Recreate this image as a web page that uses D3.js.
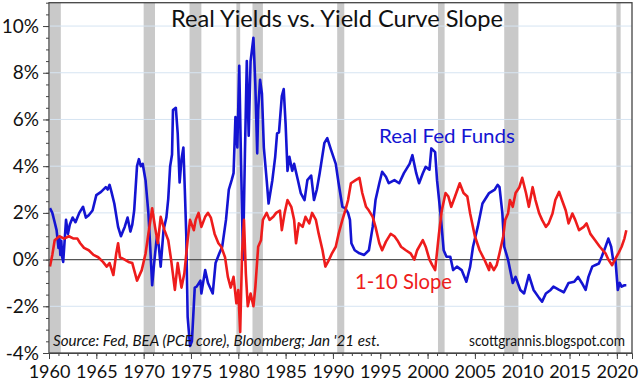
<!DOCTYPE html>
<html>
<head>
<meta charset="utf-8">
<script src="https://cdn.jsdelivr.net/npm/d3@7"></script>
<style>
  html, body { margin: 0; padding: 0; background: #fff; }
  svg { display: block; }
  text { font-family: Lato, "Open Sans", sans-serif; }
</style>
</head>
<body>
<svg id="chart" width="640" height="385"></svg>
<script>
// ---------------- DATA ----------------
const title = "Real Yields vs. Yield Curve Slope";
const sourceText = "Source: Fed, BEA (PCE core), Bloomberg; Jan '21 est.";
const siteText = "scottgrannis.blogspot.com";
const seriesNames = ["Real Fed Funds", "1-10 Slope"];

const yTicks = [-4, -2, 0, 2, 4, 6, 8, 10];
const xTicks = [1960, 1965, 1970, 1975, 1980, 1985, 1990, 1995, 2000, 2005, 2010, 2015, 2020];

// recession periods [start, end] (years)
const recessions = [
  [1960.1, 1961.25], [1970.0, 1971.2], [1974.85, 1976.1], [1979.8, 1980.2],
  [1981.5, 1982.6], [1990.45, 1991.2], [2001.1, 2001.8], [2008.1, 2009.6], [2019.95, 2020.4]
];

// Real Fed Funds (blue), [year, %]
const realFedFunds = [
  [1960.1,2.2],[1960.35,2.0],[1960.6,1.6],[1960.8,1.26],[1961.0,0.5],[1961.1,0.9],[1961.2,0.2],
  [1961.3,0.8],[1961.4,0.1],[1961.5,-0.1],[1961.8,1.7],[1962.0,1.1],[1962.2,1.5],[1962.5,1.8],
  [1962.8,1.6],[1963.2,2.0],[1963.6,2.26],[1963.9,1.8],[1964.2,1.9],[1964.6,2.1],[1965.0,2.76],
  [1965.5,2.9],[1966.0,3.1],[1966.2,3.0],[1966.4,3.2],[1966.6,2.9],[1966.9,2.4],[1967.3,1.4],
  [1967.6,1.0],[1967.8,1.2],[1968.0,1.4],[1968.3,1.8],[1968.6,1.2],[1968.8,1.5],[1969.0,2.1],
  [1969.3,4.0],[1969.5,4.3],[1969.7,4.0],[1969.9,4.1],[1970.2,3.4],[1970.5,2.0],[1970.7,0.5],
  [1970.9,-1.1],[1971.1,-0.2],[1971.4,1.0],[1971.6,0.6],[1971.8,-0.3],[1972.1,1.26],[1972.4,1.8],
  [1972.6,2.6],[1972.8,4.0],[1973.0,4.5],[1973.1,6.4],[1973.4,6.5],[1973.6,5.4],[1973.8,3.3],
  [1974.0,4.3],[1974.2,4.8],[1974.35,3.0],[1974.5,1.1],[1974.65,-2.45],[1974.9,-3.7],[1975.1,-3.5],
  [1975.4,-1.2],[1975.6,-1.16],[1976.0,-0.9],[1976.1,-1.45],[1976.5,-0.45],[1976.8,-1.0],
  [1977.3,-1.45],[1977.6,-0.15],[1978.0,0.27],[1978.3,0.55],[1978.7,1.7],[1979.0,3.0],[1979.3,3.4],
  [1979.5,3.7],[1979.7,6.1],[1979.9,4.8],[1980.1,8.3],[1980.3,4.0],[1980.5,0.0],[1980.7,4.5],
  [1980.9,8.5],[1981.1,5.3],[1981.3,8.5],[1981.6,9.5],[1981.8,7.5],[1982.0,4.55],[1982.1,6.4],
  [1982.3,7.7],[1982.5,7.1],[1982.7,4.8],[1983.0,3.4],[1983.2,2.4],[1983.6,3.4],[1983.9,4.4],
  [1984.1,5.4],[1984.3,5.45],[1984.6,7.0],[1984.8,7.3],[1985.0,5.8],[1985.2,3.8],[1985.4,4.4],
  [1985.7,3.8],[1985.9,4.1],[1986.3,3.4],[1986.6,2.85],[1987.0,2.55],[1987.3,3.4],[1987.7,3.6],
  [1988.0,2.55],[1988.3,3.0],[1988.6,3.7],[1989.1,5.0],[1989.4,5.2],[1989.8,4.7],[1990.3,4.1],
  [1990.6,3.27],[1991.0,2.26],[1991.3,2.2],[1991.6,2.0],[1991.8,1.7],[1991.95,0.7],[1992.3,0.4],
  [1992.8,0.27],[1993.3,0.2],[1993.8,0.4],[1994.2,1.4],[1994.5,2.55],[1994.9,3.27],[1995.2,3.76],
  [1995.6,3.55],[1995.9,3.27],[1996.5,3.4],[1997.0,3.27],[1997.5,3.7],[1998.1,4.1],[1998.4,4.47],
  [1998.8,3.7],[1999.1,3.27],[1999.5,3.7],[1999.8,3.97],[2000.2,3.85],[2000.4,4.76],[2000.8,4.6],
  [2001.0,3.4],[2001.4,1.83],[2001.7,0.4],[2002.0,0.12],[2002.4,0.12],[2002.7,-0.45],[2003.1,-0.3],
  [2003.6,-0.45],[2004.1,-0.95],[2004.5,-0.3],[2004.8,0.55],[2005.3,1.4],[2005.8,2.4],[2006.5,2.85],
  [2007.1,3.0],[2007.4,3.2],[2007.6,3.1],[2007.9,2.0],[2008.1,0.55],[2008.5,0.0],[2008.8,-0.6],
  [2009.0,-1.0],[2009.3,-0.74],[2009.8,-1.3],[2010.2,-1.45],[2010.7,-0.66],[2011.2,-1.3],
  [2011.8,-1.65],[2012.1,-1.8],[2012.5,-1.45],[2013.0,-1.3],[2013.3,-1.16],[2013.9,-1.3],
  [2014.4,-1.4],[2014.9,-1.0],[2015.5,-0.95],[2015.9,-0.74],[2016.3,-1.0],[2016.7,-1.3],
  [2017.0,-0.74],[2017.4,-0.3],[2017.7,-0.24],[2018.1,-0.17],[2018.4,0.12],[2018.8,0.55],
  [2019.1,0.9],[2019.4,0.55],[2019.6,0.0],[2019.85,0.0],[2020.1,-1.3],[2020.3,-1.0],[2020.5,-1.16],
  [2020.8,-1.1],[2021.0,-1.1]
];

// 1-10 Slope (red), [year, %]
const slope110 = [
  [1960.1,-0.3],[1960.35,0.2],[1960.6,0.83],[1961.1,1.0],[1961.6,0.9],[1962.1,1.0],[1962.6,0.9],
  [1963.0,0.9],[1963.3,0.7],[1963.7,0.5],[1964.2,0.4],[1964.7,0.2],[1965.2,0.1],[1965.7,-0.1],
  [1966.1,-0.3],[1966.4,-0.15],[1966.8,-0.66],[1967.1,0.25],[1967.3,0.7],[1967.5,0.1],[1968.0,0.0],
  [1968.4,-0.1],[1968.8,-0.15],[1969.3,-0.9],[1969.8,-0.45],[1970.2,0.25],[1970.5,1.1],[1970.9,2.2],
  [1971.2,1.4],[1971.5,0.7],[1971.8,1.83],[1972.2,1.26],[1972.6,0.83],[1972.9,0.0],[1973.3,-1.3],
  [1973.6,-0.15],[1974.0,-1.2],[1974.3,-0.6],[1974.65,0.83],[1974.9,1.7],[1975.3,1.26],[1975.5,1.7],
  [1975.8,2.0],[1976.1,1.4],[1976.5,1.83],[1976.8,2.0],[1977.1,1.8],[1977.5,1.1],[1977.9,0.7],
  [1978.2,0.55],[1978.6,0.1],[1978.9,-0.74],[1979.2,-1.2],[1979.5,-0.74],[1979.8,-1.87],[1980.0,-1.3],
  [1980.2,-3.1],[1980.4,0.27],[1980.6,1.7],[1980.8,-0.6],[1981.0,-2.0],[1981.3,-1.45],[1981.6,-2.0],
  [1981.8,-1.2],[1982.1,0.55],[1982.4,0.83],[1982.6,1.7],[1983.0,2.0],[1983.3,1.7],[1983.7,1.83],
  [1984.0,2.0],[1984.4,2.1],[1984.6,1.26],[1984.9,2.0],[1985.2,2.55],[1985.6,2.26],[1985.9,1.7],
  [1986.1,0.7],[1986.4,1.55],[1986.8,1.4],[1987.1,1.83],[1987.5,1.55],[1987.8,2.0],[1988.2,1.7],
  [1988.5,1.1],[1988.9,0.4],[1989.2,-0.3],[1989.6,0.0],[1989.9,0.27],[1990.3,0.55],[1990.6,1.1],
  [1991.0,1.7],[1991.3,2.1],[1991.6,2.55],[1991.9,3.27],[1992.4,3.4],[1992.8,3.5],[1993.1,2.85],
  [1993.5,2.26],[1993.8,2.1],[1994.2,1.83],[1994.5,1.4],[1994.9,0.7],[1995.2,0.4],[1995.6,0.77],
  [1996.1,1.1],[1996.5,1.0],[1996.8,0.83],[1997.2,0.55],[1997.7,0.4],[1998.2,0.27],[1998.6,0.0],
  [1998.9,0.4],[1999.5,0.83],[1999.8,0.55],[2000.2,0.0],[2000.5,-0.24],[2000.8,-0.45],[2001.2,1.1],
  [2001.5,2.1],[2001.9,2.85],[2002.2,2.7],[2002.5,2.26],[2002.9,2.7],[2003.4,3.27],[2003.8,2.85],
  [2004.2,2.7],[2004.5,1.97],[2005.0,1.0],[2005.5,0.4],[2006.0,0.0],[2006.5,-0.45],[2006.6,-0.15],
  [2007.0,-0.45],[2007.3,-0.24],[2007.6,0.27],[2008.0,1.0],[2008.2,1.7],[2008.5,1.97],[2008.7,2.55],
  [2009.0,2.26],[2009.3,2.85],[2009.7,3.1],[2010.0,3.5],[2010.4,2.85],[2010.7,2.26],[2011.1,3.1],
  [2011.4,2.55],[2011.8,1.97],[2012.1,1.7],[2012.5,1.4],[2012.8,1.55],[2013.2,1.97],[2013.5,2.55],
  [2013.9,2.9],[2014.2,2.55],[2014.6,2.1],[2014.9,1.55],[2015.3,1.97],[2015.6,1.7],[2016.0,1.26],
  [2016.5,1.4],[2016.8,1.55],[2017.2,1.1],[2017.7,0.83],[2018.2,0.55],[2018.8,0.27],[2019.1,0.0],
  [2019.5,-0.24],[2019.8,0.0],[2020.2,0.3],[2020.5,0.55],[2020.8,0.9],[2021.0,1.26]
];

// ---------------- CHART ----------------
(function () {
const svg = d3.select("#chart");
const pLeft = 49, pRight = 632, pTop = 2.7, pBottom = 353;

const x = d3.scaleLinear().domain([1960, 2021.6]).range([pLeft, pRight]);
const y = d3.scaleLinear().domain([-4, 11]).range([pBottom, pTop]);

// recession bars
svg.append("g").selectAll("rect").data(recessions).join("rect")
  .attr("x", d => x(d[0])).attr("width", d => x(d[1]) - x(d[0]))
  .attr("y", pTop).attr("height", pBottom - pTop)
  .attr("fill", "#c9c9c9");

// gridlines
svg.append("g").selectAll("line").data(yTicks.filter(v => v !== 0 && v !== -4)).join("line")
  .attr("x1", pLeft).attr("x2", pRight)
  .attr("y1", d => y(d)).attr("y2", d => y(d))
  .attr("stroke", "#d6e4f2").attr("stroke-width", 1);

// zero line
svg.append("line").attr("x1", pLeft).attr("x2", pRight)
  .attr("y1", y(0)).attr("y2", y(0)).attr("stroke", "#555").attr("stroke-width", 1.2);

// lines
const line = d3.line().x(d => x(d[0])).y(d => y(d[1]));
svg.append("path").datum(realFedFunds).attr("d", line)
  .attr("fill", "none").attr("stroke", "#1414d2").attr("stroke-width", 2.6).attr("stroke-linejoin", "round");
svg.append("path").datum(slope110).attr("d", line)
  .attr("fill", "none").attr("stroke", "#ee1c1c").attr("stroke-width", 2.6).attr("stroke-linejoin", "round");

// frame
svg.append("rect").attr("x", pLeft).attr("y", pTop).attr("width", pRight - pLeft).attr("height", pBottom - pTop)
  .attr("fill", "none").attr("stroke", "#444").attr("stroke-width", 1.3);

// axes
const fontAxis = "Lato, 'Open Sans', sans-serif";
const xAxisMinor = d3.axisBottom(x).tickValues(d3.range(1960, 2022, 1)).tickSize(3).tickFormat("");
svg.append("g").attr("transform", `translate(0,${pBottom})`).call(xAxisMinor)
  .call(g => g.select(".domain").remove())
  .call(g => g.selectAll("line").attr("stroke", "#444"));
const xAxis = d3.axisBottom(x).tickValues(xTicks).tickSize(6).tickPadding(6).tickFormat(d3.format("d"));
svg.append("g").attr("transform", `translate(0,${pBottom})`).call(xAxis)
  .call(g => g.select(".domain").attr("stroke", "#444"))
  .call(g => g.selectAll("line").attr("stroke", "#444"))
  .call(g => g.selectAll("text").attr("font-size", 18).attr("font-family", fontAxis).attr("fill", "#111"));

const yAxisMinor = d3.axisLeft(y).tickValues(d3.range(-4, 11.01, 0.5)).tickSize(3).tickFormat("");
svg.append("g").attr("transform", `translate(${pLeft},0)`).call(yAxisMinor)
  .call(g => g.select(".domain").remove())
  .call(g => g.selectAll("line").attr("stroke", "#444"));
const yAxis = d3.axisLeft(y).tickValues(yTicks).tickSize(6).tickPadding(4).tickFormat(d => d + "%");
svg.append("g").attr("transform", `translate(${pLeft},0)`).call(yAxis)
  .call(g => g.select(".domain").remove())
  .call(g => g.selectAll("line").attr("stroke", "#444"))
  .call(g => g.selectAll("text").attr("font-size", 19).attr("font-family", fontAxis).attr("fill", "#111"));

// title
svg.append("text").attr("x", 337).attr("y", 27).attr("text-anchor", "middle")
  .attr("font-size", 23).attr("fill", "#111").attr("textLength", 332).attr("lengthAdjust", "spacingAndGlyphs")
  .text(title);

// series labels
svg.append("text").attr("x", 379).attr("y", 143).attr("font-size", 19.5).attr("fill", "#1414d2")
  .attr("textLength", 136).attr("lengthAdjust", "spacingAndGlyphs").text(seriesNames[0]);
svg.append("text").attr("x", 355).attr("y", 289).attr("font-size", 22).attr("fill", "#ee1c1c")
  .attr("textLength", 97).attr("lengthAdjust", "spacingAndGlyphs").text(seriesNames[1]);

// source & site
svg.append("text").attr("x", 53).attr("y", 346).attr("font-size", 14.5).attr("font-style", "italic")
  .attr("fill", "#111").attr("textLength", 327).attr("lengthAdjust", "spacingAndGlyphs").text(sourceText);
svg.append("text").attr("x", 469).attr("y", 346).attr("font-size", 14.5)
  .attr("fill", "#111").attr("textLength", 156).attr("lengthAdjust", "spacingAndGlyphs").text(siteText);
})();
</script>
</body>
</html>
